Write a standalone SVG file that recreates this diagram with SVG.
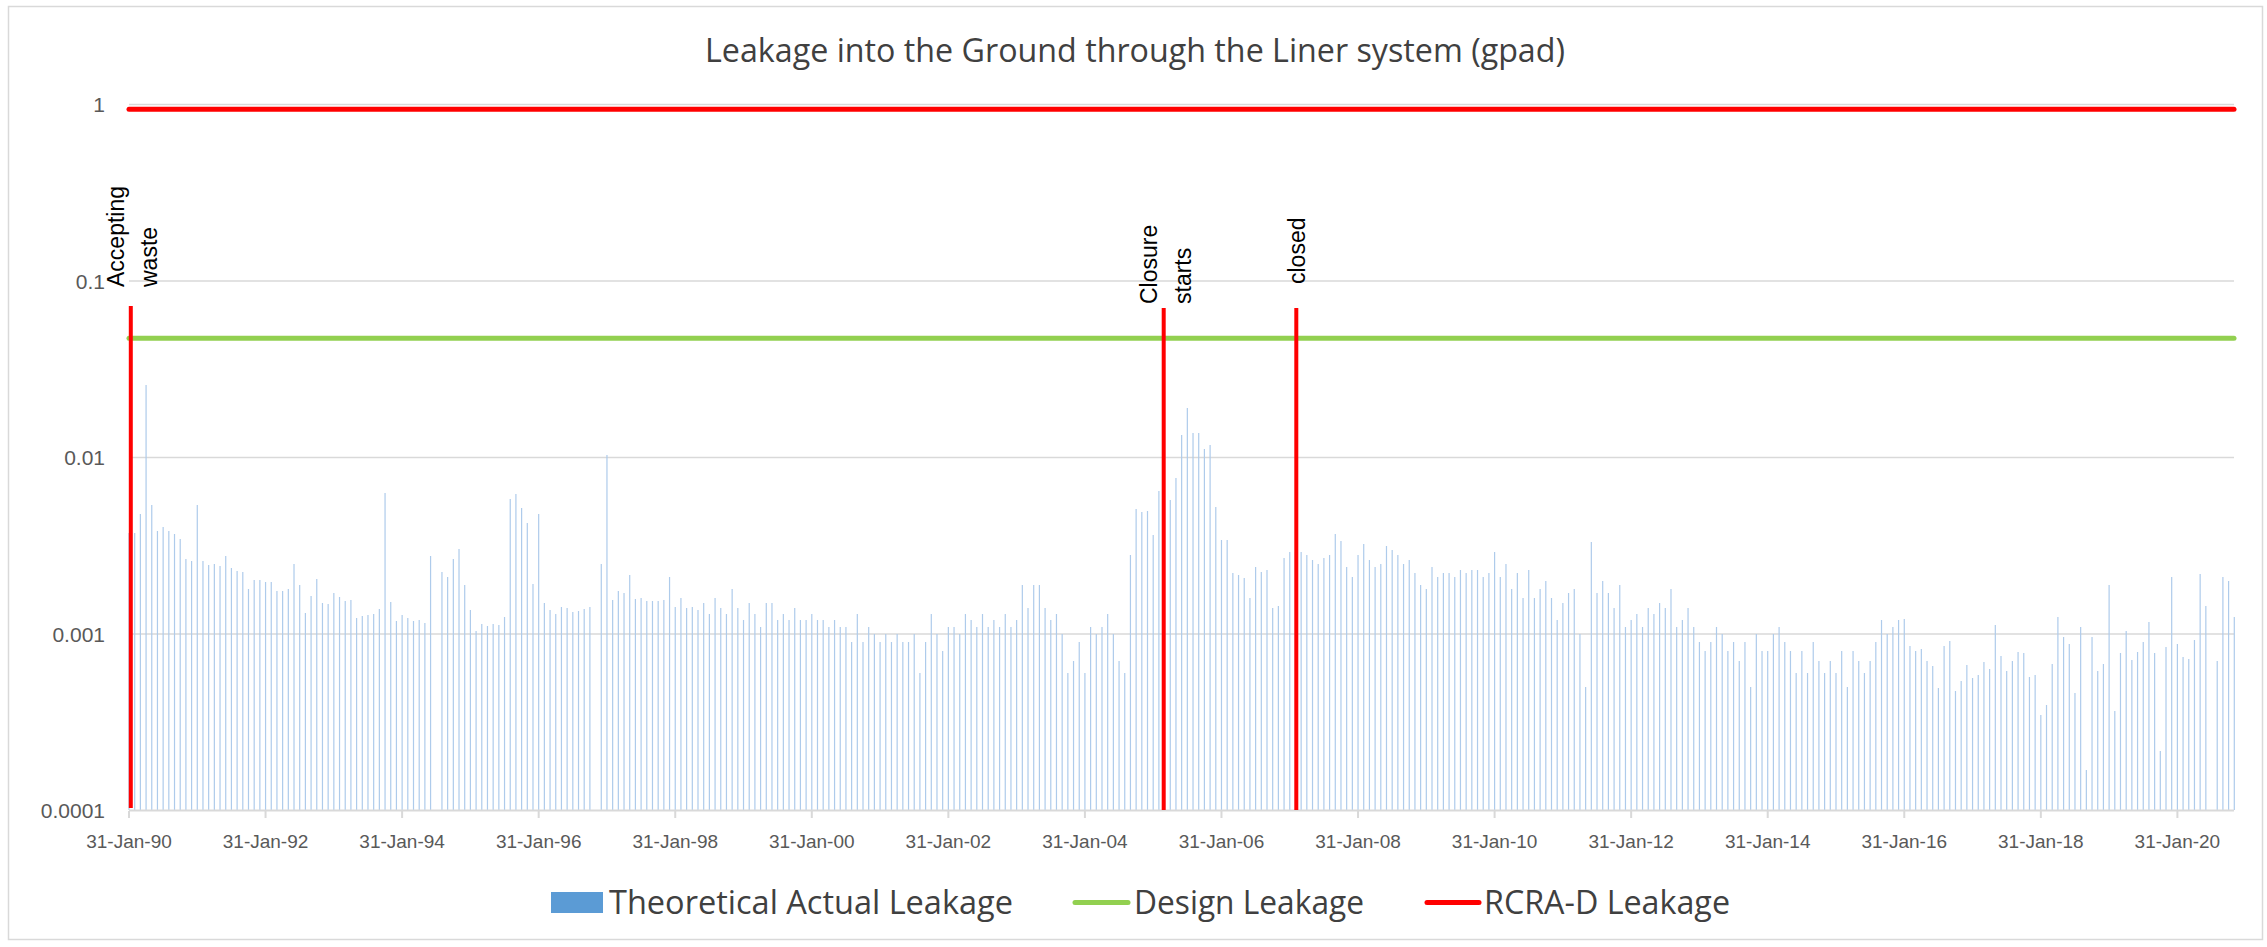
<svg xmlns="http://www.w3.org/2000/svg" width="2267" height="947" viewBox="0 0 2267 947">
  <style>
    .frame{fill:#fff;stroke:#d9d9d9;stroke-width:1.5}
    .grid{stroke:#d9d9d9;stroke-width:1.5;fill:none}
    .axis{stroke:#d9d9d9;stroke-width:2;fill:none}
    .bars{stroke:#aecbeb;stroke-width:1.2;fill:none}
    .rcra{stroke:#ff0000;stroke-width:5;stroke-linecap:round;fill:none}
    .design{stroke:#92d050;stroke-width:5;stroke-linecap:round;fill:none}
    .milestone{stroke:#ff0000;stroke-width:4;fill:none}
    .ylab{font-family:"Liberation Sans",Arial,sans-serif;font-size:21px;fill:#595959;text-anchor:end}
    .xlab{font-family:"Liberation Sans",Arial,sans-serif;font-size:19px;fill:#595959;text-anchor:middle}
    .note{font-family:"Liberation Sans",Arial,sans-serif;font-size:23px;fill:#000}
    .title{font-family:"Open Sans","Liberation Sans",sans-serif;font-size:33px;fill:#404040}
    .leg{font-family:"Open Sans","Liberation Sans",sans-serif;font-size:33px;fill:#404040}
  </style>

  <rect width="2267" height="947" fill="#fff"/>
  <rect id="chart-frame" class="frame" x="8.5" y="6.5" width="2254" height="933"/>

  <text id="chart-title" class="title" x="705" y="62" textLength="860" lengthAdjust="spacingAndGlyphs">Leakage into the Ground through the Liner system (gpad)</text>

  <!-- log-scale gridlines: one decade = 176.5 px -->
  <g id="gridlines" class="grid">
    <line x1="129" y1="104.5" x2="2234" y2="104.5"/>
    <line x1="129" y1="281" x2="2234" y2="281"/>
    <line x1="129" y1="457.5" x2="2234" y2="457.5"/>
    <line x1="129" y1="634" x2="2234" y2="634"/>
  </g>

  <g id="y-axis-labels">
    <text class="ylab" x="105" y="112">1</text>
    <text class="ylab" x="105" y="288.5">0.1</text>
    <text class="ylab" x="105" y="465">0.01</text>
    <text class="ylab" x="105" y="641.5">0.001</text>
    <text class="ylab" x="105" y="818">0.0001</text>
  </g>

  <!-- monthly leakage bars, Jan-90 onward, 5.69 px per month -->
  <g id="series-actual">
    <path class="bars" d="M129 810V533V810m5.69 0V533V810m5.69 0V514V810m5.69 0V385V810m5.69 0V505V810m5.69 0V531V810m5.69 0V527V810m5.69 0V531V810m5.69 0V534V810m5.69 0V539V810
m5.69 0V559V810m5.69 0V561V810m5.69 0V505V810m5.69 0V561V810m5.69 0V565V810m5.69 0V564V810m5.69 0V566V810m5.69 0V556V810m5.69 0V568V810m5.69 0V571V810
m5.69 0V572V810m5.69 0V589V810m5.69 0V580V810m5.69 0V580V810m5.69 0V582V810m5.69 0V582V810m5.69 0V591V810m5.69 0V591V810m5.69 0V589V810m5.69 0V564V810
m5.69 0V585V810m5.69 0V613V810m5.69 0V596V810m5.69 0V579V810m5.69 0V603V810m5.69 0V604V810m5.69 0V593V810m5.69 0V597V810m5.69 0V601V810m5.69 0V600V810
m5.69 0V618V810m5.69 0V616V810m5.69 0V615V810m5.69 0V614V810m5.69 0V609V810m5.69 0V493V810m5.69 0V602V810m5.69 0V621V810m5.69 0V615V810m5.69 0V618V810
m5.69 0V621V810m5.69 0V620V810m5.69 0V623V810m5.69 0V556V810m5.69 0m5.69 0V572V810m5.69 0V577V810m5.69 0V559V810m5.69 0V549V810m5.69 0V585V810
m5.69 0V610V810m5.69 0V631V810m5.69 0V624V810m5.69 0V626V810m5.69 0V624V810m5.69 0V625V810m5.69 0V617V810m5.69 0V499V810m5.69 0V494V810m5.69 0V508V810
m5.69 0V523V810m5.69 0V584V810m5.69 0V514V810m5.69 0V603V810m5.69 0V610V810m5.69 0V614V810m5.69 0V607V810m5.69 0V608V810m5.69 0V612V810m5.69 0V611V810
m5.69 0V609V810m5.69 0V607V810m5.69 0m5.69 0V564V810m5.69 0V455V810m5.69 0V600V810m5.69 0V591V810m5.69 0V593V810m5.69 0V575V810m5.69 0V599V810
m5.69 0V598V810m5.69 0V601V810m5.69 0V601V810m5.69 0V601V810m5.69 0V600V810m5.69 0V577V810m5.69 0V607V810m5.69 0V598V810m5.69 0V608V810m5.69 0V607V810
m5.69 0V610V810m5.69 0V603V810m5.69 0V614V810m5.69 0V598V810m5.69 0V608V810m5.69 0V614V810m5.69 0V589V810m5.69 0V608V810m5.69 0V620V810m5.69 0V603V810
m5.69 0V614V810m5.69 0V627V810m5.69 0V603V810m5.69 0V603V810m5.69 0V620V810m5.69 0V614V810m5.69 0V620V810m5.69 0V608V810m5.69 0V620V810m5.69 0V620V810
m5.69 0V614V810m5.69 0V620V810m5.69 0V620V810m5.69 0V627V810m5.69 0V620V810m5.69 0V627V810m5.69 0V627V810m5.69 0V642V810m5.69 0V614V810m5.69 0V642V810
m5.69 0V627V810m5.69 0V634V810m5.69 0V642V810m5.69 0V634V810m5.69 0V642V810m5.69 0V634V810m5.69 0V642V810m5.69 0V642V810m5.69 0V634V810m5.69 0V673V810
m5.69 0V642V810m5.69 0V614V810m5.69 0V634V810m5.69 0V651V810m5.69 0V627V810m5.69 0V627V810m5.69 0V634V810m5.69 0V614V810m5.69 0V620V810m5.69 0V627V810
m5.69 0V614V810m5.69 0V627V810m5.69 0V620V810m5.69 0V627V810m5.69 0V614V810m5.69 0V627V810m5.69 0V620V810m5.69 0V585V810m5.69 0V608V810m5.69 0V585V810
m5.69 0V585V810m5.69 0V608V810m5.69 0V620V810m5.69 0V614V810m5.69 0V634V810m5.69 0V673V810m5.69 0V661V810m5.69 0V642V810m5.69 0V673V810m5.69 0V627V810
m5.69 0V634V810m5.69 0V627V810m5.69 0V614V810m5.69 0V634V810m5.69 0V661V810m5.69 0V673V810m5.69 0V555V810m5.69 0V509V810m5.69 0V512V810m5.69 0V511V810
m5.69 0V535V810m5.69 0V491V810m5.69 0V500V810m5.69 0V500V810m5.69 0V478V810m5.69 0V435V810m5.69 0V408V810m5.69 0V433V810m5.69 0V433V810m5.69 0V449V810
m5.69 0V445V810m5.69 0V507V810m5.69 0V540V810m5.69 0V540V810m5.69 0V573V810m5.69 0V575V810m5.69 0V578V810m5.69 0V598V810m5.69 0V567V810m5.69 0V572V810
m5.69 0V570V810m5.69 0V608V810m5.69 0V606V810m5.69 0V558V810m5.69 0V552V810m5.69 0V552V810m5.69 0V552V810m5.69 0V555V810m5.69 0V560V810m5.69 0V564V810
m5.69 0V558V810m5.69 0V555V810m5.69 0V534V810m5.69 0V541V810m5.69 0V567V810m5.69 0V577V810m5.69 0V555V810m5.69 0V544V810m5.69 0V560V810m5.69 0V567V810
m5.69 0V564V810m5.69 0V546V810m5.69 0V550V810m5.69 0V555V810m5.69 0V564V810m5.69 0V560V810m5.69 0V573V810m5.69 0V585V810m5.69 0V589V810m5.69 0V567V810
m5.69 0V577V810m5.69 0V573V810m5.69 0V573V810m5.69 0V577V810m5.69 0V570V810m5.69 0V573V810m5.69 0V570V810m5.69 0V570V810m5.69 0V577V810m5.69 0V573V810
m5.69 0V552V810m5.69 0V577V810m5.69 0V564V810m5.69 0V589V810m5.69 0V573V810m5.69 0V598V810m5.69 0V570V810m5.69 0V598V810m5.69 0V589V810m5.69 0V581V810
m5.69 0V598V810m5.69 0V620V810m5.69 0V603V810m5.69 0V593V810m5.69 0V589V810m5.69 0V634V810m5.69 0V687V810m5.69 0V542V810m5.69 0V593V810m5.69 0V581V810
m5.69 0V593V810m5.69 0V608V810m5.69 0V585V810m5.69 0V627V810m5.69 0V620V810m5.69 0V614V810m5.69 0V627V810m5.69 0V608V810m5.69 0V614V810m5.69 0V603V810
m5.69 0V608V810m5.69 0V589V810m5.69 0V627V810m5.69 0V620V810m5.69 0V608V810m5.69 0V627V810m5.69 0V642V810m5.69 0V651V810m5.69 0V642V810m5.69 0V627V810
m5.69 0V634V810m5.69 0V651V810m5.69 0V642V810m5.69 0V661V810m5.69 0V642V810m5.69 0V687V810m5.69 0V634V810m5.69 0V651V810m5.69 0V651V810m5.69 0V634V810
m5.69 0V627V810m5.69 0V642V810m5.69 0V651V810m5.69 0V673V810m5.69 0V651V810m5.69 0V673V810m5.69 0V642V810m5.69 0V661V810m5.69 0V673V810m5.69 0V661V810
m5.69 0V673V810m5.69 0V651V810m5.69 0V687V810m5.69 0V651V810m5.69 0V661V810m5.69 0V673V810m5.69 0V661V810m5.69 0V642V810m5.69 0V620V810m5.69 0V634V810
m5.69 0V627V810m5.69 0V620V810m5.69 0V619V810m5.69 0V646V810m5.69 0V651V810m5.69 0V649V810m5.69 0V661V810m5.69 0V666V810m5.69 0V688V810m5.69 0V646V810
m5.69 0V641V810m5.69 0V691V810m5.69 0V681V810m5.69 0V665V810m5.69 0V678V810m5.69 0V675V810m5.69 0V662V810m5.69 0V669V810m5.69 0V625V810m5.69 0V656V810
m5.69 0V671V810m5.69 0V661V810m5.69 0V652V810m5.69 0V653V810m5.69 0V677V810m5.69 0V675V810m5.69 0V715V810m5.69 0V705V810m5.69 0V664V810m5.69 0V617V810
m5.69 0V637V810m5.69 0V644V810m5.69 0V693V810m5.69 0V627V810m5.69 0V770V810m5.69 0V637V810m5.69 0V671V810m5.69 0V664V810m5.69 0V585V810m5.69 0V711V810
m5.69 0V653V810m5.69 0V631V810m5.69 0V660V810m5.69 0V652V810m5.69 0V642V810m5.69 0V622V810m5.69 0V653V810m5.69 0V751V810m5.69 0V647V810m5.69 0V577V810
m5.69 0V644V810m5.69 0V657V810m5.69 0V659V810m5.69 0V640V810m5.69 0V574V810m5.69 0V606V810m5.69 0m5.69 0V661V810m5.69 0V577V810m5.69 0V581V810
m5.69 0V617V810"/>
  </g>

  <!-- horizontal category axis with a tick every two years -->
  <g id="x-axis">
    <line class="axis" x1="129" y1="810.5" x2="2234" y2="810.5"/>
    <path class="axis" d="M129 811V818M265.56 811V818M402.12 811V818M538.68 811V818M675.24 811V818M811.8 811V818M948.36 811V818M1084.92 811V818M1221.48 811V818M1358.04 811V818M1494.6 811V818M1631.16 811V818M1767.72 811V818M1904.28 811V818M2040.84 811V818M2177.4 811V818"/>
  </g>

  <g id="x-axis-labels">
    <text class="xlab" x="129" y="848">31-Jan-90</text>
    <text class="xlab" x="265.56" y="848">31-Jan-92</text>
    <text class="xlab" x="402.12" y="848">31-Jan-94</text>
    <text class="xlab" x="538.68" y="848">31-Jan-96</text>
    <text class="xlab" x="675.24" y="848">31-Jan-98</text>
    <text class="xlab" x="811.8" y="848">31-Jan-00</text>
    <text class="xlab" x="948.36" y="848">31-Jan-02</text>
    <text class="xlab" x="1084.92" y="848">31-Jan-04</text>
    <text class="xlab" x="1221.48" y="848">31-Jan-06</text>
    <text class="xlab" x="1358.04" y="848">31-Jan-08</text>
    <text class="xlab" x="1494.6" y="848">31-Jan-10</text>
    <text class="xlab" x="1631.16" y="848">31-Jan-12</text>
    <text class="xlab" x="1767.72" y="848">31-Jan-14</text>
    <text class="xlab" x="1904.28" y="848">31-Jan-16</text>
    <text class="xlab" x="2040.84" y="848">31-Jan-18</text>
    <text class="xlab" x="2177.4" y="848">31-Jan-20</text>
  </g>

  <g id="series-design">
    <line class="design" x1="129" y1="338.3" x2="2234" y2="338.3"/>
  </g>

  <g id="series-rcra">
    <line class="rcra" x1="129" y1="109.3" x2="2234" y2="109.3"/>
  </g>

  <!-- site milestones -->
  <g id="milestone-accepting">
    <line class="milestone" x1="130.8" y1="306" x2="130.8" y2="808"/>
    <text class="note" transform="translate(124 287) rotate(-90)">Accepting</text>
    <text class="note" transform="translate(157 287) rotate(-90)">waste</text>
  </g>
  <g id="milestone-closure">
    <line class="milestone" x1="1163.7" y1="308" x2="1163.7" y2="810"/>
    <text class="note" transform="translate(1157 304) rotate(-90)">Closure</text>
    <text class="note" transform="translate(1190.5 304) rotate(-90)">starts</text>
  </g>
  <g id="milestone-closed">
    <line class="milestone" x1="1296.3" y1="308" x2="1296.3" y2="810"/>
    <text class="note" transform="translate(1305 284) rotate(-90)">closed</text>
  </g>

  <g id="legend">
    <rect x="551" y="892" width="52" height="21" fill="#5b9bd5"/>
    <text class="leg" x="609" y="914" textLength="404" lengthAdjust="spacingAndGlyphs">Theoretical Actual Leakage</text>
    <line class="design" x1="1075" y1="902.5" x2="1128" y2="902.5"/>
    <text class="leg" x="1134" y="914" textLength="230" lengthAdjust="spacingAndGlyphs">Design Leakage</text>
    <line class="rcra" x1="1427" y1="902.5" x2="1479" y2="902.5"/>
    <text class="leg" x="1484" y="914" textLength="246" lengthAdjust="spacingAndGlyphs">RCRA-D Leakage</text>
  </g>
</svg>
